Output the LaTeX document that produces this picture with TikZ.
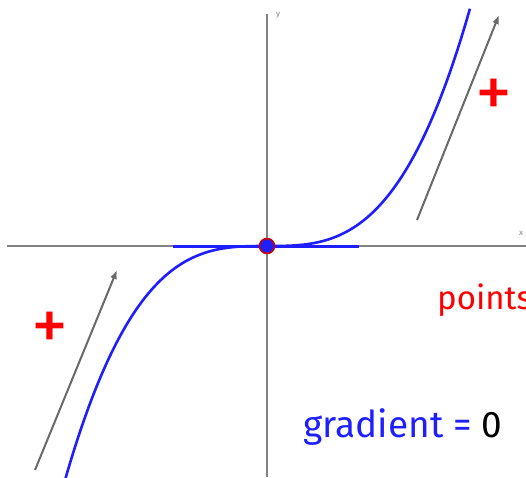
\documentclass[tikz,border=0pt]{standalone}
\usepackage{fontspec}
\setmainfont{Fira Sans}
\usetikzlibrary{arrows.meta}
\definecolor{axisgray}{RGB}{130,130,130}
\definecolor{arrowgray}{RGB}{105,105,105}
\definecolor{curveblue}{RGB}{30,30,255}
\tikzset{
  axis/.style={draw=axisgray, line width=1.5pt},
  curve/.style={draw=curveblue, line width=2.6pt},
  tangent/.style={draw=curveblue, line width=3pt},
  dirarrow/.style={draw=arrowgray, line width=2pt, -{Latex[length=9pt,width=7pt]}},
  plussign/.style={text=red, font=\fontsize{74}{74}\selectfont, inner sep=0pt},
  bigtext/.style={inner sep=0pt, anchor=west},
  axlabel/.style={text=axisgray, font=\fontsize{8}{8}\selectfont, inner sep=0pt}
}
\begin{document}
\begin{tikzpicture}[x=1pt,y=-1pt]
\useasboundingbox (0,0) rectangle (526,477);
\clip (0,0) rectangle (526,477);
\fill[white] (0,0) rectangle (526,477);
% axes
\coordinate (xl) at (7,246);
\coordinate (xr) at (526,246);
\coordinate (yt) at (267,14);
\coordinate (yb) at (267,477);
\draw[axis] (xl) -- (xr);
\draw[axis] (yt) -- (yb);
\node[axlabel] (xlab) at (521,233) {x};
\node[axlabel] (ylab) at (278,15) {y};
% curve y = x^3
\draw[curve] plot[domain=-2.06:2.03, samples=120, smooth] ({267+100*\x},{246-28.4*\x*\x*\x});
% tangent line
\coordinate (tl) at (173,246);
\coordinate (tr) at (359,246);
\draw[tangent] (tl) -- (tr);
% point of inflection
\node[circle, fill=curveblue, draw=red!80!black, line width=1.6pt, minimum size=15pt, inner sep=0pt] (O) at (267,246) {};
% direction arrows
\coordinate (ra1) at (417,220);
\coordinate (ra2) at (499,15);
\draw[dirarrow] (ra1) -- (ra2);
\coordinate (la1) at (35,470);
\coordinate (la2) at (117,270);
\draw[dirarrow] (la1) -- (la2);
% plus signs
\node[plussign] (pr) at (494,98) {+};
\node[plussign] (pl) at (50,331) {+};
% texts
\node[bigtext, text=red, font=\fontsize{33}{33}\selectfont] (pts) at (437,300) {points};
\node[bigtext, font=\fontsize{37}{37}\selectfont] (grad) at (303,427) {\textcolor{curveblue}{gradient =} 0};
\end{tikzpicture}
\end{document}
